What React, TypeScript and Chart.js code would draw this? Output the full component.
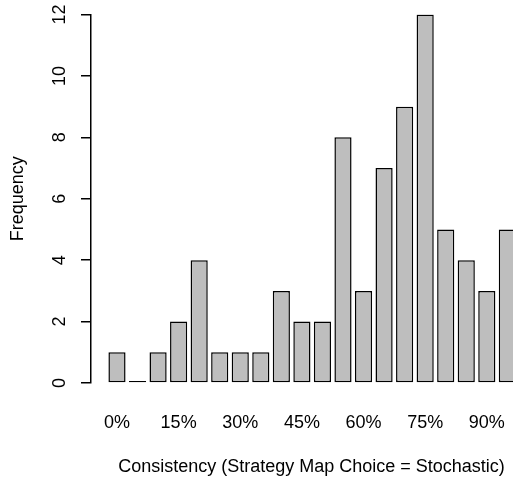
import React, { useEffect, useRef } from "react";
import { Chart, registerables } from "chart.js";

Chart.register(...registerables);

// Histogram bins (5% steps) and their frequencies
const binLabels = ["0%", "5%", "10%", "15%", "20%", "25%", "30%", "35%", "40%", "45%", "50%", "55%", "60%", "65%", "70%", "75%", "80%", "85%", "90%", "95%"];
const frequencies = [1, 0, 1, 2, 4, 1, 1, 1, 3, 2, 2, 8, 3, 7, 9, 12, 5, 4, 3, 5];
// Labelled bins on the x axis
const xTickBins = [0, 3, 6, 9, 12, 15, 18];
const xTickLabels = ["0%", "15%", "30%", "45%", "60%", "75%", "90%"];
// y axis
const yMin = 0;
const yMax = 12;
const yStep = 2;

const xTitle = "Consistency (Strategy Map Choice = Stochastic)";
const yTitle = "Frequency";

const FONT = "'Liberation Sans', Arial, Helvetica, sans-serif";

export default function App() {
  const ref = useRef<HTMLCanvasElement | null>(null);

  useEffect(() => {
    if (!ref.current) return;
    const chart = new Chart(ref.current, {
      type: "bar",
      data: {
        labels: binLabels,
        datasets: [
          {
            label: yTitle,
            data: frequencies.map((v, i) => ({ x: i, y: v })),
            backgroundColor: "#BEBEBE",
            borderColor: "#000000",
            borderWidth: 1.5,
            borderSkipped: false,
            minBarLength: 2,
            barPercentage: 0.835,
            categoryPercentage: 1,
          },
        ],
      },
      options: {
        responsive: false,
        animation: false,
        devicePixelRatio: 1,
        layout: { padding: { top: 14.5, left: 0, right: 0, bottom: 0 } },
        plugins: { legend: { display: false }, tooltip: { enabled: false } },
        scales: {
          x: {
            type: "linear",
            offset: false,
            min: -1.265,
            max: 20.2,
            grid: { display: false, drawTicks: false, offset: false },
            border: { display: false },
            afterBuildTicks: (scale: any) => {
              scale.ticks = xTickBins.map((v) => ({ value: v }));
            },
            afterFit: (scale: any) => {
              scale.height = 98;
              scale.paddingLeft = 0;
              scale.paddingRight = 0;
            },
            ticks: {
              autoSkip: false,
              maxRotation: 0,
              minRotation: 0,
              padding: 29,
              color: "#000",
              font: { family: FONT, size: 18 },
              callback: (value: any) => {
                const k = xTickBins.indexOf(Number(value));
                return k >= 0 ? xTickLabels[k] : "";
              },
            },
            title: {
              display: true,
              text: xTitle,
              color: "#000",
              font: { family: FONT, size: 18 },
              padding: { top: 0, bottom: 3.5 },
            },
          },
          y: {
            min: yMin,
            max: yMax,
            grid: {
              drawOnChartArea: false,
              drawTicks: true,
              tickLength: 10,
              color: "#000",
              lineWidth: 1.5,
            },
            border: { display: true, color: "#000", width: 1.5 },
            afterFit: (scale: any) => {
              scale.width = 91;
              scale.paddingTop = 0;
              scale.paddingBottom = 0;
            },
            ticks: {
              stepSize: yStep,
              minRotation: 90,
              maxRotation: 90,
              crossAlign: "center",
              padding: 11,
              color: "#000",
              font: { family: FONT, size: 18 },
            },
            title: {
              display: true,
              text: yTitle,
              color: "#000",
              font: { family: FONT, size: 18 },
              padding: { top: 7.5, bottom: 0 },
            },
          },
        },
      },
    });
    return () => chart.destroy();
  }, []);

  return (
    <div style={{ position: "fixed", left: 0, top: 0, width: 513, height: 481, background: "#fff", overflow: "hidden" }}>
      <canvas ref={ref} width={532} height={481} style={{ display: "block" }} />
    </div>
  );
}
